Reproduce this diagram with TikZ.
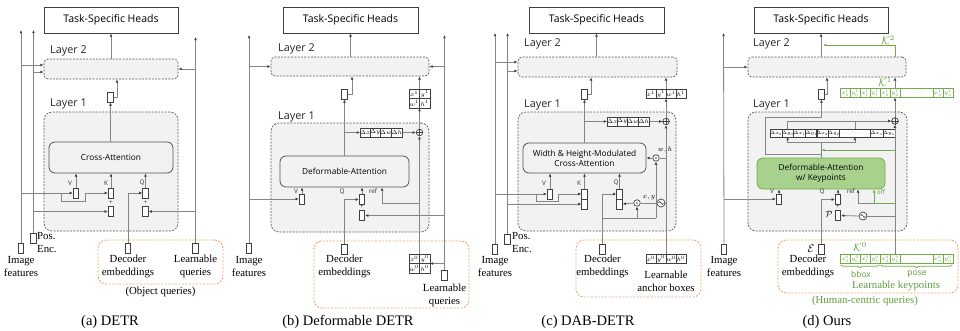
\RequirePackage{fix-cm}
\documentclass[tikz,border=0pt]{standalone}
\usepackage{fontspec}
\setmainfont{Liberation Serif}
\newfontfamily\uisans{Open Sans}
\usetikzlibrary{arrows.meta,decorations.pathreplacing,calc}

\definecolor{wire}{HTML}{858585}
\definecolor{ink}{HTML}{404040}
\definecolor{panel}{HTML}{F2F2F2}
\definecolor{dashc}{HTML}{5A5A5A}
\definecolor{qorange}{HTML}{EFA16F}
\definecolor{kgreen}{HTML}{70AD47}
\definecolor{ktext}{HTML}{5E9C3C}
\definecolor{dafill}{HTML}{A9D18E}

\tikzset{
  wire/.style={draw=wire, line width=0.8pt},
  arr/.style={wire, -{Latex[length=3.2pt,width=2.8pt,color=ink]}},
  gwire/.style={draw=kgreen, line width=0.9pt},
  garr/.style={gwire, -{Latex[length=3.2pt,width=2.8pt]}},
  tok/.style={draw=ink, fill=white, line width=0.75pt, minimum width=5.5pt, minimum height=10pt, inner sep=0pt},
  headbox/.style={draw=ink, fill=white, line width=0.8pt, minimum height=26pt, inner sep=0pt, font=\uisans\fontsize{10.5}{12}\selectfont},
  layerbox/.style={draw=dashc, fill=panel, dash pattern=on 2pt off 1.3pt, line width=0.7pt, inner sep=0pt},
  attnbox/.style={draw=ink!90, fill=panel, rounded corners=6pt, line width=0.8pt, align=center, inner sep=0pt, font=\uisans\fontsize{8.3}{10}\selectfont},
  layerlbl/.style={anchor=west, inner sep=0pt, font=\uisans\fontsize{10.8}{13}\selectfont, text=black!85},
  portlbl/.style={inner sep=0pt, font=\uisans\fontsize{6.3}{7}\selectfont, text=black!80},
  caplbl/.style={align=center, inner sep=0pt, font=\fontsize{10.8}{13}\selectfont},
  titlelbl/.style={inner sep=0pt, font=\fontsize{14.5}{16}\selectfont},
  qgroup/.style={draw=qorange, dash pattern=on 2pt off 1.5pt, rounded corners=8pt, line width=0.9pt, inner sep=0pt},
  cell/.style={fill=white, minimum width=10pt, minimum height=9pt, inner sep=0pt, outer sep=0pt, anchor=west, font=\fontsize{6}{6}\selectfont},
  dcell/.style={cell, minimum width=10.25pt, minimum height=8pt, font=\fontsize{4.8}{5}\selectfont},
  gcell/.style={cell, text=ktext, font=\fontsize{5.4}{6}\selectfont},
  cellframe/.style={draw=ink, line width=0.6pt},
  gcellframe/.style={draw=kgreen, line width=0.6pt},
  opc/.style={circle, draw=ink, fill=white, line width=0.7pt, minimum size=6.5pt, inner sep=0pt},
  greenlbl/.style={inner sep=0pt, text=ktext},
}

\begin{document}
\begin{tikzpicture}[x=1pt,y=-1pt]
\useasboundingbox (0,0) rectangle (960,330);

%% ---------------- (a) DETR ----------------
\node[headbox, minimum width=134pt] (aTSH) at (111,20) {Task-Specific Heads};
\node[layerbox, rounded corners=4pt, minimum width=134pt, minimum height=20pt] (aL2) at (111,69) {};
\node[layerlbl] at (50,51) {Layer 2};
\node[layerbox, rounded corners=8pt, minimum width=134pt, minimum height=119pt] (aL1) at (111,171.5) {};
\node[layerlbl] at (50,104) {Layer 1};
\node[attnbox, minimum width=124pt, minimum height=31pt] (aCA) at (111,157.5) {Cross-Attention};
\node[tok] (aOut) at (110.5,97) {};
\node[tok] (aV) at (76,193) {};
\node[tok] (aK) at (111,193) {};
\node[tok] (aK2) at (111,211.5) {};
\node[tok] (aQ) at (145.5,193) {};
\node[tok] (aQ2) at (145.5,211.5) {};
\node[portlbl] at (70,183) {V};
\node[portlbl] at (106,183) {K};
\node[portlbl] at (142,183) {Q};
\node[portlbl] at (111,202.5) {+};
\node[portlbl] at (145.5,202.5) {+};
\node[qgroup, minimum width=125pt, minimum height=44pt] (aQG) at (160.5,262) {};
\node[tok] (aImg) at (21,248.5) {};
\node[tok] (aPos) at (33.5,238.5) {};
\node[tok] (aDec) at (128,248) {};
\node[tok] (aLq) at (195.5,248) {};
\node[caplbl] at (21,266.5) {Image\\features};
\node[caplbl, anchor=west, align=left] at (37,242.5) {Pos.\\Enc.};
\node[caplbl] at (128,266.5) {Decoder\\embeddings};
\node[caplbl] at (195.5,266.5) {Learnable\\queries};
\node[caplbl] at (160.5,292) {(Object queries)};
\node[titlelbl] at (110,322) {(a) DETR};

\coordinate (aImgEnd) at (21,30);
\coordinate (aPosEnd) at (33.5,30);
\coordinate (aLqEnd) at (195.5,37);
\draw[arr] (aImg.north) -- (aImgEnd);
\draw[arr] (aPos.north) -- (aPosEnd);
\draw[arr] (aLq.north) -- (aLqEnd);
\draw[arr] (aImg |- 0,65) -- (aL2.west |- 0,65);
\draw[arr] (aPos |- 0,72) -- (aL2.west |- 0,72);
\draw[arr] (aLq |- aL2) -- (aL2.east);
\draw[arr] (aImg |- aV) -- (aV.west);
\draw[arr] (61,193) -- (61,201) -- (85,201) -- (85,193) -- (aK.west);
\draw[arr] (aPos |- aK2) -- (aK2.west);
\draw[arr] (aDec.north) |- (aQ.west);
\draw[arr] (aLq |- aQ2) -- (aQ2.east);
\draw[arr] (aV.north) -- (aV |- aCA.south);
\draw[arr] (aK.north) -- (aK |- aCA.south);
\draw[arr] (aQ.north) -- (aQ |- aCA.south);
\draw[arr] (aCA.north -| aOut) -- (aOut.south);
\draw[arr] (aOut.east) -| (aL2.south -| 117,0);
\draw[arr] (aTSH.south |- aL2.north) -- (aTSH.south);

%% ---------------- (b) Deformable DETR ----------------
\node[headbox, minimum width=135pt] (bTSH) at (350.5,20) {Task-Specific Heads};
\node[layerbox, rounded corners=4pt, minimum width=158pt, minimum height=19pt] (bL2) at (350,66.5) {};
\node[layerlbl] at (278,49) {Layer 2};
\node[layerbox, rounded corners=8pt, minimum width=158pt, minimum height=109pt] (bL1) at (350,177.5) {};
\node[layerlbl] at (278,117) {Layer 1};
\node[attnbox, minimum width=129pt, minimum height=31pt] (bDA) at (344.5,171.5) {Deformable-Attention};
\node[tok] (bOut) at (344.5,94) {};
\node[tok] (bV) at (302,199) {};
\node[tok] (bQ) at (362,199.5) {};
\node[tok] (bQ2) at (362,215.5) {};
\node[portlbl] at (296,191) {V};
\node[portlbl] at (342,192) {Q};
\node[portlbl] at (373,191) {ref};
\node[portlbl] at (362,207) {+};
\node[cell] (bd1) at (360,132.5) {$\Delta x$};
\node[cell] (bd2) at (bd1.east) {$\Delta y$};
\node[cell] (bd3) at (bd2.east) {$\Delta w$};
\node[cell] (bd4) at (bd3.east) {$\Delta h$};
\node[opc] (bPlus) at (419.5,132.5) {};
\draw[ink, line width=0.6pt] (bPlus.north) -- (bPlus.south) (bPlus.west) -- (bPlus.east);
\node[cell, minimum width=10.5pt, minimum height=9.5pt] (bx1a) at (409,93.75) {$x^1$};
\node[cell, minimum width=10.5pt, minimum height=9.5pt] (bx1b) at (bx1a.east) {$y^1$};
\node[cell, minimum width=10.5pt, minimum height=9.5pt] (bx1c) at (409,103.25) {$w^1$};
\node[cell, minimum width=10.5pt, minimum height=9.5pt] (bx1d) at (bx1c.east) {$h^1$};
\node[qgroup, minimum width=155pt, minimum height=67pt] (bQG) at (391.5,274.5) {};
\node[cell, minimum width=10.5pt, minimum height=9.5pt] (bx0a) at (409,258.75) {$x^0$};
\node[cell, minimum width=10.5pt, minimum height=9.5pt] (bx0b) at (bx0a.east) {$y^0$};
\node[cell, minimum width=10.5pt, minimum height=9.5pt] (bx0c) at (409,268.25) {$w^0$};
\node[cell, minimum width=10.5pt, minimum height=9.5pt] (bx0d) at (bx0c.east) {$h^0$};
\node[tok] (bImg) at (249,248.5) {};
\node[tok] (bDec) at (344.5,249.5) {};
\node[tok] (bLq) at (444.5,275) {};
\node[caplbl] at (249,266.5) {Image\\features};
\node[caplbl] at (344.5,266) {Decoder\\embeddings};
\node[caplbl] at (444.5,295) {Learnable\\queries};
\node[titlelbl] at (348,322) {(b) Deformable DETR};

\coordinate (bImgEnd) at (249,35);
\coordinate (bLqEnd) at (444.5,35);
\draw[arr] (bImg.north) -- (bImgEnd);
\draw[arr] (bLq.north) -- (bLqEnd);
\draw[arr] (bImg |- bL2) -- (bL2.west);
\draw[arr] (bLq |- bL2) -- (bL2.east);
\draw[arr] (bImg |- bV) -- (bV.west);
\draw[arr] (bLq |- bQ2) -- (bQ2.east);
\draw[arr] (bLq |- bx0b.south east) -- (bx0b.south east);
\draw[arr] (bDec.north) |- (bQ.west);
\draw[arr] (bV.north) -- (bV |- bDA.south);
\draw[arr] (bQ.north) -- (bQ |- bDA.south);
\draw[arr] (bDA.north -| bOut) -- (bOut.south);
\draw[arr] (bOut |- bd1.west) -- (bd1.west);
\draw[arr] (bd4.east) -- (bPlus.west);
\draw[arr] (bx0a.north east) -- (bPlus.south);
\draw[arr] (bPlus |- 0,203) -| (bDA.south -| 382,0);
\draw[arr] (bPlus.north) -- (bx1c.south east);
\draw[arr] (bx1a.north east) -- (bL2.south -| bx1a.north east);
\draw[arr] (bOut.east) -| (bL2.south -| 352,0);
\draw[arr] (bTSH.south |- bL2.north) -- (bTSH.south);

%% ---------------- (c) DAB-DETR ----------------
\node[headbox, minimum width=135pt] (cTSH) at (596.5,20) {Task-Specific Heads};
\node[layerbox, rounded corners=4pt, minimum width=159pt, minimum height=20pt] (cL2) at (597.5,67) {};
\node[layerlbl] at (524,44) {Layer 2};
\node[layerbox, rounded corners=8pt, minimum width=158pt, minimum height=119pt] (cL1) at (597,171.5) {};
\node[layerlbl] at (524,105) {Layer 1};
\node[attnbox, minimum width=123pt, minimum height=30pt] (cCA) at (584.5,158) {Width \& Height-Modulated\\Cross-Attention};
\node[tok] (cOut) at (584.5,94) {};
\node[tok] (cV) at (550,194) {};
\node[tok] (cK) at (584.5,194) {};
\node[tok] (cK2) at (584.5,204) {};
\node[tok] (cQ) at (619.5,194) {};
\node[tok] (cQ2) at (619.5,204) {};
\node[portlbl] at (544,183) {V};
\node[portlbl] at (579,183) {K};
\node[portlbl] at (616,183) {Q};
\node[cell] (cd1) at (607,121.5) {$\Delta x$};
\node[cell] (cd2) at (cd1.east) {$\Delta y$};
\node[cell] (cd3) at (cd2.east) {$\Delta w$};
\node[cell] (cd4) at (cd3.east) {$\Delta h$};
\node[opc] (cPlus) at (666,121.5) {};
\draw[ink, line width=0.6pt] (cPlus.north) -- (cPlus.south) (cPlus.west) -- (cPlus.east);
\node[cell] (cx1a) at (646,94) {$x^1$};
\node[cell] (cx1b) at (cx1a.east) {$y^1$};
\node[cell] (cx1c) at (cx1b.east) {$w^1$};
\node[cell] (cx1d) at (cx1c.east) {$h^1$};
\node[opc] (cWH) at (656,158) {};
\fill[ink] (cWH) circle (0.8pt);
\node[inner sep=0pt, font=\fontsize{7}{7}\selectfont] at (665,150) {$w,h$};
\node[opc] (cXY) at (637,203) {};
\fill[ink] (cXY) circle (0.8pt);
\node[inner sep=0pt, font=\fontsize{7}{7}\selectfont] at (649,197.5) {$x,y$};
\node[opc, minimum size=8pt] (cSin) at (661,203) {};
\draw[ink, line width=0.6pt] ($(cSin)+(-2.4,0)$) sin ++(1.2,-1.6) cos ++(1.2,1.6) sin ++(1.2,1.6) cos ++(1.2,-1.6);
\node[qgroup, minimum width=125pt, minimum height=57pt] (cQG) at (638.5,268.5) {};
\node[cell] (cx0a) at (646,259) {$x^0$};
\node[cell] (cx0b) at (cx0a.east) {$y^0$};
\node[cell] (cx0c) at (cx0b.east) {$w^0$};
\node[cell] (cx0d) at (cx0c.east) {$h^0$};
\node[tok] (cImg) at (495,249) {};
\node[tok] (cPos) at (507.5,239) {};
\node[tok] (cDec) at (602.5,249) {};
\node[caplbl] at (495,266.5) {Image\\features};
\node[caplbl, anchor=west, align=left] at (512,243) {Pos.\\Enc.};
\node[caplbl] at (602.5,266.5) {Decoder\\embeddings};
\node[caplbl] at (666,281.5) {Learnable\\anchor boxes};
\node[titlelbl] at (588,322) {(c) DAB-DETR};

\coordinate (cImgEnd) at (495,33);
\coordinate (cPosEnd) at (507.5,33);
\draw[arr] (cImg.north) -- (cImgEnd);
\draw[arr] (cPos.north) -- (cPosEnd);
\draw[arr] (cImg |- 0,62) -- (cL2.west |- 0,62);
\draw[arr] (cPos |- 0,71) -- (cL2.west |- 0,71);
\draw[arr] (cImg |- cV) -- (cV.west);
\draw[arr] (536,194) -- (536,201) -- (558,201) -- (558,194) -- (cK.west);
\draw[arr] (cPos |- cK2) -- (cK2.west);
\draw[arr] (cDec.north) |- (cQ.west);
\draw[wire] (cDec |- 0,218) -- (cWH |- 0,218);
\draw[arr] (cXY |- 0,218) -- (cXY.south);
\draw[arr] (cWH |- 0,218) -- (cWH.south);
\draw[arr] (cx0b.north east) -- (cPlus.south);
\draw[wire] (cPlus |- cSin) -- (cSin.east);
\draw[wire] (cSin.west) -- (cXY.east);
\draw[arr] (cXY.west) -- (cQ2.east);
\draw[wire] (cPlus |- cWH) -- (cWH.east);
\draw[arr] (cWH.west) -- (cCA.east |- cWH);
\draw[arr] (cV.north) -- (cV |- cCA.south);
\draw[arr] (cK.north) -- (cK |- cCA.south);
\draw[arr] (cQ.north) -- (cQ |- cCA.south);
\draw[arr] (cCA.north -| cOut) -- (cOut.south);
\draw[arr] (cOut |- cd1.west) -- (cd1.west);
\draw[arr] (cd4.east) -- (cPlus.west);
\draw[arr] (cPlus.north) -- (cx1b.south east);
\draw[arr] (cx1b.north east) -- (cL2.south -| cx1b.north east);
\draw[arr] (cOut.east) -| (cL2.south -| 591,0);
\draw[arr] (cTSH.south |- cL2.north) -- (cTSH.south);

%% ---------------- (d) Ours ----------------
\node[headbox, minimum width=134pt] (dTSH) at (821,20) {Task-Specific Heads};
\node[layerbox, rounded corners=4pt, minimum width=158pt, minimum height=20pt] (dL2) at (827,67) {};
\node[layerlbl] at (753,44) {Layer 2};
\node[layerbox, rounded corners=8pt, minimum width=159pt, minimum height=119pt] (dL1) at (827.5,171.5) {};
\node[layerlbl] at (753,105) {Layer 1};
\node[attnbox, draw=kgreen, fill=dafill, minimum width=128pt, minimum height=31pt] (dDA) at (821,173.5) {Deformable-Attention\\w/ Keypoints};
\node[tok] (dOut) at (821.5,94) {};
\node[tok] (dV) at (779,199) {};
\node[tok] (dQ) at (838,199.5) {};
\node[tok] (dQ2) at (838,215.5) {};
\node[portlbl] at (772,191) {V};
\node[portlbl] at (822,192) {Q};
\node[portlbl] at (851,191) {ref};
\node[portlbl, text=ktext] at (881,192) {off};
\node[portlbl] at (838,207) {+};
\node[inner sep=0pt, font=\fontsize{9}{9}\selectfont] at (829,214) {$\mathcal{P}$};
% offset rows
\node[dcell] (dda1) at (770,133) {$\Delta x_0$};
\node[dcell] (dda2) at (dda1.east) {$\Delta y_0$};
\node[dcell] (dda3) at (dda2.east) {$\Delta x_1$};
\node[dcell] (dda4) at (dda3.east) {$\Delta y_1$};
\node[dcell, minimum width=10.5pt] (ddb1) at (816,133) {$\Delta x_2$};
\node[dcell, minimum width=10.5pt] (ddb2) at (ddb1.east) {$\Delta y_2$};
\node[dcell, minimum width=31pt] (ddb3) at (ddb2.east) {$\cdots$};
\node[dcell, minimum width=10.5pt] (ddb4) at (ddb3.east) {$\Delta x_n$};
\node[dcell, minimum width=10.5pt] (ddb5) at (ddb4.east) {$\Delta y_n$};
\node[opc] (dPlus) at (895,121) {};
\draw[ink, line width=0.6pt] (dPlus.north) -- (dPlus.south) (dPlus.west) -- (dPlus.east);
% keypoint rows
\node[gcell] (dk1a) at (840,93) {$x_0^1$};
\node[gcell] (dk1b) at (dk1a.east) {$y_0^1$};
\node[gcell] (dk1c) at (dk1b.east) {$x_1^1$};
\node[gcell] (dk1d) at (dk1c.east) {$y_1^1$};
\node[gcell] (dk1e) at (dk1d.east) {$x_2^1$};
\node[gcell] (dk1f) at (dk1e.east) {$y_2^1$};
\node[gcell, minimum width=33pt] (dk1g) at (dk1f.east) {$\cdots$};
\node[gcell] (dk1h) at (dk1g.east) {$x_n^1$};
\node[gcell] (dk1i) at (dk1h.east) {$y_n^1$};
\node[qgroup, minimum width=180pt, minimum height=53pt] (dQG) at (868,266.5) {};
\node[gcell] (dk0a) at (840,259) {$x_0^0$};
\node[gcell] (dk0b) at (dk0a.east) {$y_0^0$};
\node[gcell] (dk0c) at (dk0b.east) {$x_1^0$};
\node[gcell] (dk0d) at (dk0c.east) {$y_1^0$};
\node[gcell] (dk0e) at (dk0d.east) {$x_2^0$};
\node[gcell] (dk0f) at (dk0e.east) {$y_2^0$};
\node[gcell, minimum width=33pt] (dk0g) at (dk0f.east) {$\cdots$};
\node[gcell] (dk0h) at (dk0g.east) {$x_n^0$};
\node[gcell] (dk0i) at (dk0h.east) {$y_n^0$};
\node[greenlbl, font=\fontsize{11}{11}\selectfont] at (888,40) {$\mathcal{K}^2$};
\node[greenlbl, font=\fontsize{11}{11}\selectfont] at (885,82) {$\mathcal{K}^1$};
\node[greenlbl, font=\fontsize{11}{11}\selectfont] at (860,247) {$\mathcal{K}^0$};
\draw[gwire, line width=0.7pt, decorate, decoration={brace, mirror, amplitude=2.5pt}] ($(dk0a.south west)+(0.5,1.5)$) -- ($(dk0d.south east)+(-0.5,1.5)$);
\draw[gwire, line width=0.7pt, decorate, decoration={brace, mirror, amplitude=2.5pt}] ($(dk0e.south west)+(0.5,1.5)$) -- ($(dk0i.south east)+(-0.5,1.5)$);
\node[greenlbl, font=\uisans\fontsize{8.5}{9}\selectfont] at (861,274) {bbox};
\node[greenlbl, font=\uisans\fontsize{8.5}{9}\selectfont] at (917,274) {pose};
\node[caplbl, text=ktext] at (896,286) {Learnable keypoints};
\node[caplbl, text=ktext] at (865,301) {(Human-centric queries)};
\node[tok] (dImg) at (724,249) {};
\node[tok] (dDec) at (821.5,249) {};
\node[inner sep=0pt, font=\fontsize{11}{11}\selectfont] at (811,249) {$\mathcal{E}$};
\node[caplbl] at (724,266.5) {Image\\features};
\node[caplbl] at (808,266.5) {Decoder\\embeddings};
\node[titlelbl] at (827,322) {(d) Ours};
\node[opc, minimum size=8pt] (dSin) at (863,216) {};
\draw[ink, line width=0.6pt] ($(dSin)+(-2.4,0)$) sin ++(1.2,-1.6) cos ++(1.2,1.6) sin ++(1.2,1.6) cos ++(1.2,-1.6);

% cell frames of the coordinate and offset rows
\foreach \n in {bd1,bd2,bd3,bd4,bx1a,bx1b,bx1c,bx1d,bx0a,bx0b,bx0c,bx0d,
                cd1,cd2,cd3,cd4,cx1a,cx1b,cx1c,cx1d,cx0a,cx0b,cx0c,cx0d,
                dda1,dda2,dda3,dda4,ddb1,ddb2,ddb3,ddb4,ddb5}
  \draw[cellframe] (\n.south west) rectangle (\n.north east);
\foreach \n in {dk1a,dk1b,dk1c,dk1d,dk1e,dk1f,dk1g,dk1h,dk1i,
                dk0a,dk0b,dk0c,dk0d,dk0e,dk0f,dk0g,dk0h,dk0i}
  \draw[gcellframe] (\n.south west) rectangle (\n.north east);

\coordinate (dImgEnd) at (723.5,33);
\draw[arr] (dImg.north) -- (dImgEnd);
\draw[arr] (dImg |- dL2) -- (dL2.west);
\draw[arr] (dImg |- dV) -- (dV.west);
\draw[arr] (dDec.north) |- (dQ.west);
\draw[arr] (dV.north) -- (dV |- dDA.south);
\draw[arr] (dQ.north) -- (dQ |- dDA.south);
\draw[arr] (dk0f.north) -- (dPlus.south);
\draw[wire] (dPlus |- dSin) -- (dSin.east);
\draw[arr] (dSin.west) -- (dQ2.east);
\draw[arr] (874,203) -- (858,203) -- (dDA.south -| 858,0);
\draw[garr] (dPlus |- 0,203) -- (874,203) -- (dDA.south -| 874,0);
\draw[garr] (dPlus |- 0,150) -- (dOut |- 0,150);
% deformable-attention output: offsets and detour to the layer output
\draw[wire] (dDA.north -| dOut) -- (dOut |- 0,142);
\draw[arr] (dOut |- 0,142) -| (dda2.south);
\draw[arr] (dOut |- 0,142) -| (ddb3.south);
\draw[arr] (dOut |- 0,154) -- (765,154) -- (765,117) -- (dOut |- 0,117) -- (dOut.south);
\draw[arr] (dda2.north) |- (dPlus.west);
\draw[wire] (ddb3.north) -- (ddb3.north |- dPlus);
\draw[arr] (dPlus.north) -- (dk1f.south);
\draw[arr] (dk1f.north) -- (dL2.south -| dk1f.north);
\draw[garr] (dL2.north -| dk1f) -- (dk1f |- 0,45) -- (823,45);
\draw[arr] (dOut.east) -| (dL2.south -| 827,0);
\draw[arr] (dTSH.south |- dL2.north) -- (dTSH.south);
\end{tikzpicture}
\end{document}
